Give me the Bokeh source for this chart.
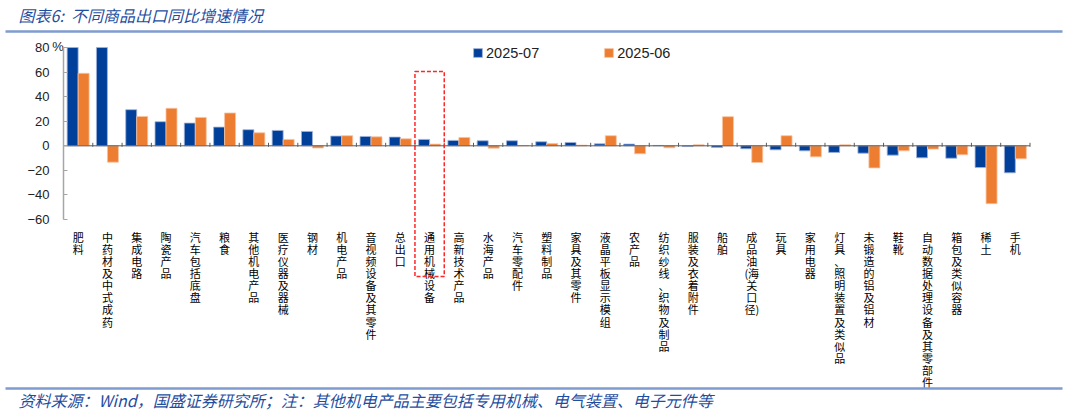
from bokeh.plotting import figure
from bokeh.models import Range1d, FixedTicker, Legend, LegendItem, LinearAxis, ColumnDataSource
from bokeh.core.properties import value
from bokeh.embed import file_html
from bokeh.resources import INLINE

# ---------------- data ----------------
categories = [
    "肥料", "中药材及中式成药", "集成电路", "陶瓷产品", "汽车包括底盘", "粮食",
    "其他机电产品", "医疗仪器及器械", "钢材", "机电产品", "音视频设备及其零件",
    "总出口", "通用机械设备", "高新技术产品", "水海产品", "汽车零配件", "塑料制品",
    "家具及其零件", "液晶平板显示模组", "农产品", "纺织纱线、织物及制品",
    "服装及衣着附件", "船舶", "成品油(海关口径)", "玩具", "家用电器",
    "灯具、照明装置及类似品", "未锻造的铝及铝材", "鞋靴", "自动数据处理设备及其零部件",
    "箱包及类似容器", "稀土", "手机",
]
jul_2025 = [80.0, 80.0, 29.4, 19.6, 18.5, 15.2, 13.1, 12.5, 11.7, 7.9, 7.6,
            7.1, 5.2, 4.4, 4.1, 4.1, 3.3, 2.7, 1.6, 1.4, 0.3,
            -0.6, -1.4, -2.4, -3.3, -4.1, -5.4, -6.0, -7.6, -9.8,
            -10.1, -17.7, -22.0]
jun_2025 = [59.0, -13.3, 23.9, 30.5, 23.1, 26.7, 10.6, 5.2, -1.8, 8.2, 7.3,
            5.7, 1.4, 6.8, -1.9, 0.2, 1.9, 0.5, 8.2, -6.5, -1.6,
            0.8, 23.7, -13.6, 8.2, -9.0, 0.8, -18.0, -4.1, -2.7,
            -7.3, -47.1, -10.6]
series_names = ["2025-07", "2025-06"]
y_ticks = [-60, -40, -20, 0, 20, 40, 60, 80]
highlight = "通用机械设备"
title_text = "图表6:\u00a0\u00a0不同商品出口同比增速情况"
footer_text = "资料来源：Wind，国盛证券研究所；注：其他机电产品主要包括专用机械、电气装置、电子元件等"

# ---------------- layout helpers (pixels -> data) ----------------
W, H = 1066, 413
n = len(categories)
X0 = 63.0            # canvas x of first category edge
CW = 966.5 / n       # px per category
Y0 = 145.3           # canvas y of zero line
S = 1.2288           # px per percentage point


def dx(px):
    return (px - X0) / CW


def dy(py):
    return (Y0 - py) / S


def vertical(s):
    lines = []
    for ch in s:
        if ch == ")" and lines:
            lines[-1] += ch
        elif lines and lines[-1] == "(":
            lines[-1] += ch
        else:
            lines.append(ch)
    return "\n".join(lines)


BLUE = "#00409A"
ORANGE = "#ED7D31"
TXT_BLUE = "#1F4E9F"
CJK = "Noto Sans CJK SC"

p = figure(width=W, height=H, x_range=Range1d(dx(0), dx(W)), y_range=Range1d(dy(H), dy(0)),
           output_backend="svg", toolbar_location=None, min_border=0,
           x_axis_location=None, y_axis_location=None)
p.outline_line_color = None
p.background_fill_color = "white"
p.border_fill_color = "white"
p.xgrid.visible = False
p.ygrid.visible = False

bw = 0.375
xc = [i + 0.5 for i in range(n)]
src = ColumnDataSource(dict(
    xb=[x - bw / 2 for x in xc], xo=[x + bw / 2 for x in xc],
    jul=jul_2025, jun=jun_2025,
))
r1 = p.vbar(x="xb", top="jul", bottom=0, width=bw, source=src,
            fill_color=BLUE, line_color="#9FB3DA", line_width=0.8)
r2 = p.vbar(x="xo", top="jun", bottom=0, width=bw, source=src,
            fill_color=ORANGE, line_color="#F7C3A0", line_width=0.8)

# y axis
yax = LinearAxis(fixed_location=0, bounds=(y_ticks[0], y_ticks[-1]),
                 ticker=FixedTicker(ticks=y_ticks))
yax.axis_line_color = "#A6A6A6"
yax.axis_line_width = 1.5
yax.major_tick_line_color = "#A6A6A6"
yax.major_tick_in = 4
yax.major_tick_out = 0
yax.minor_tick_line_color = None
yax.major_label_text_font = "Liberation Sans"
yax.major_label_text_font_size = "13px"
yax.major_label_text_color = "#222222"
yax.major_label_standoff = 14
p.add_layout(yax, "left")

# zero line with category-boundary ticks
bounds_x = list(range(n + 1))
p.segment(x0=[0], x1=[n], y0=[0], y1=[0], line_color="#595959", line_width=1)
p.segment(x0=bounds_x, x1=bounds_x, y0=[-1 / S] * (n + 1), y1=[3 / S] * (n + 1),
          line_color="#595959", line_width=1)

# unit label
p.text(x=[dx(57.5)], y=[dy(45.5)], text=["%"], text_font=value("Liberation Sans"),
       text_font_size="13px", text_color="#222222", text_align="center", text_baseline="middle")

# category labels (vertical)
p.text(x=xc, y=[dy(228)] * n, text=[vertical(c) for c in categories],
       text_font=value(CJK), text_font_size="11px", text_line_height=0.76,
       text_color="#000000", text_align="center", text_baseline="top")

# highlight box
hi = categories.index(highlight)
p.quad(left=[hi], right=[hi + 1], top=[dy(71)], bottom=[dy(276)], fill_color=None,
       line_color="#FF2626", line_dash="4 2", line_width=1.5)

# title, rules, footer
p.text(x=[dx(18)], y=[dy(14.5)], text=[title_text], text_font=value(CJK), text_font_style="italic",
       text_font_size="16px", text_color=TXT_BLUE, text_baseline="middle")
p.segment(x0=[dx(5), dx(5)], x1=[dx(1062), dx(1062)], y0=[dy(31), dy(388)], y1=[dy(31), dy(388)],
          line_color="#7F9BCF", line_width=2.5)
p.text(x=[dx(18)], y=[dy(399.5)], text=[footer_text], text_font=value(CJK), text_font_style="italic",
       text_font_size="16px", text_color=TXT_BLUE, text_baseline="middle")

legend = Legend(items=[LegendItem(label=series_names[0], renderers=[r1]),
                       LegendItem(label=series_names[1], renderers=[r2])],
                location=(472, H - 60.5), orientation="horizontal",
                glyph_width=11, glyph_height=11, label_standoff=3, spacing=64,
                padding=0, margin=0, border_line_color=None, background_fill_alpha=0,
                label_text_font="Liberation Sans", label_text_font_size="14.5px",
                label_text_color="#222222")
p.add_layout(legend)

open("out.html", "w").write(file_html(p, INLINE))
